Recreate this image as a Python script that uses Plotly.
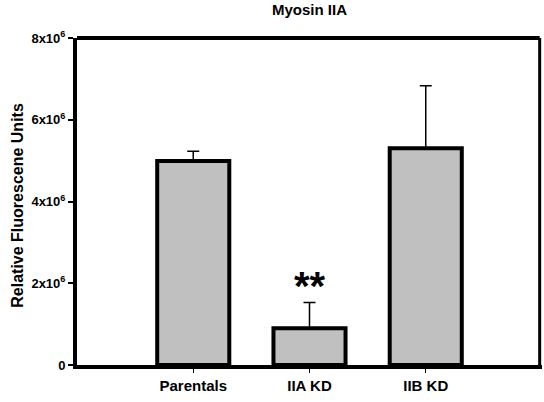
import plotly.graph_objects as go

categories = ["Parentals", "IIA KD", "IIB KD"]
values = [4.99e6, 0.90e6, 5.30e6]
errors = [0.24e6, 0.63e6, 1.53e6]
tick_vals = [0, 2e6, 4e6, 6e6, 8e6]
tick_text = ["0", "2x10<sup>6</sup>", "4x10<sup>6</sup>", "6x10<sup>6</sup>", "8x10<sup>6</sup>"]

FONT = "Liberation Sans, Arial, sans-serif"

fig = go.Figure()
fig.add_trace(go.Bar(
    x=categories, y=values, width=0.62,
    marker=dict(color="#c0c0c0", line=dict(color="black", width=4)),
    error_y=dict(type="data", symmetric=False, array=errors,
                 arrayminus=[0, 0, 0], color="black", thickness=1.5, width=6),
    showlegend=False,
))

fig.add_annotation(x=categories[1], y=values[1] + errors[1], text="<b>**</b>",
                   showarrow=False, yanchor="middle", yshift=16,
                   font=dict(family=FONT, size=40, color="black"))

fig.add_annotation(xref="paper", yref="paper", x=-0.127, y=0.49,
                   text="<b>Relative Fluorescene Units</b>", textangle=-90,
                   showarrow=False, xanchor="center", yanchor="middle",
                   font=dict(family=FONT, size=16, color="black"))

fig.update_layout(
    width=544, height=402,
    margin=dict(l=77, r=2, t=38, b=37, autoexpand=False),
    plot_bgcolor="white", paper_bgcolor="white",
    title=dict(text="<b>Myosin IIA</b>", xref="paper", x=0.5, xanchor="center",
               yref="container", y=0.975, yanchor="middle",
               font=dict(family=FONT, size=15, color="black")),
    xaxis=dict(range=[-1, 3], showline=True, linecolor="black", linewidth=4,
               ticks="outside", ticklen=4, tickwidth=1, tickcolor="black",
               tickfont=dict(family=FONT, size=15, color="black", weight="bold"),
               showgrid=False, zeroline=False, automargin=False),
    yaxis=dict(range=[0, 8e6], showline=True, linecolor="black", linewidth=4,
               tickvals=tick_vals, ticktext=tick_text,
               ticks="outside", ticklen=5, tickwidth=1.5, tickcolor="black",
               tickfont=dict(family=FONT, size=13, color="black", weight="bold"),
               showgrid=False, zeroline=False, automargin=False),
    shapes=[
        dict(type="line", xref="paper", yref="paper", x0=0, x1=0.995, y0=1, y1=1,
             line=dict(color="black", width=4)),
        dict(type="line", xref="paper", yref="paper", x0=0.995, x1=0.995, y0=0, y1=1,
             line=dict(color="black", width=3)),
    ],
)

fig.write_html("out.html", config={"displayModeBar": False},
               post_script="document.body.style.margin='0';document.body.style.overflow='hidden';")
